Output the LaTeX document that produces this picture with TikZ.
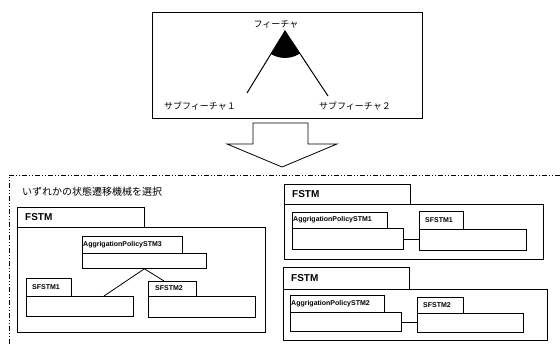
\documentclass[tikz,border=0pt]{standalone}
\usepackage{fontspec}
\setsansfont{Liberation Sans}
\newfontfamily\jpfont{Noto Sans CJK JP}
\usetikzlibrary{calc}
\tikzset{
  box/.style 2 args={draw, line width=0.8pt, rectangle, anchor=north west,
    inner sep=0pt, minimum width=#1pt, minimum height=#2pt},
  lbl/.style={font=\sffamily\bfseries\fontsize{7}{8}\selectfont, anchor=west, inner sep=0pt},
  biglbl/.style={font=\sffamily\bfseries\fontsize{10}{11}\selectfont, anchor=west, inner sep=0pt},
  jptxt/.style={font=\jpfont\fontsize{9}{10}\selectfont, inner sep=0pt},
  conn/.style={line width=0.8pt},
  frame/.style={line width=0.8pt, dash pattern=on 5pt off 2pt on 1pt off 2pt on 1pt off 2pt},
}
\begin{document}
\begin{tikzpicture}[x=1pt, y=-1pt]
\useasboundingbox (0,0) rectangle (560,345);

% feature tree: parent feature with two sub-features
\node[box={270}{106}, line width=1.4pt] (top) at (152,12) {};
\coordinate (apex) at (285,31);
\coordinate (lend) at (247,93);
\coordinate (rend) at (328,96);
\begin{scope}
  \clip (apex) -- (lend) -- (rend) -- cycle;
  \fill (apex) circle (27);
\end{scope}
\draw[line width=1pt] (lend) -- (apex) -- (rend);
\node[jptxt] (feat) at (276,24) {フィーチャ};
\node[jptxt] (sub1) at (200,106) {サブフィーチャ１};
\node[jptxt] (sub2) at (355,106) {サブフィーチャ２};

% hollow arrow pointing down
\draw[line width=0.8pt, fill=white]
  (253,123) -- (308,123) -- (308,144) -- (337,144) -- (282,167)
  -- (227,144) -- (253,144) -- cycle;

% selection frame
\coordinate (fr-r) at (560,175);
\coordinate (fr-c) at (9,175);
\coordinate (fr-b) at (9,345);
\draw[frame] (fr-r) -- (fr-c) -- (fr-b);
\node[font=\jpfont\fontsize{10}{11}\selectfont, anchor=west, inner sep=0pt] (sel) at (22,192)
  {いずれかの状態遷移機械を選択};

% left FSTM with AggrigationPolicySTM3 and two sub state machines
\node[box={127}{20}] (lt) at (17,207) {};
\node[biglbl] (ltl) at (25,217) {FSTM};
\node[box={248}{105}] (lb) at (17,227) {};
\node[box={100}{17}] (a3t) at (82,236) {};
\node[lbl] (a3l) at (83,244.5) {AggrigationPolicySTM3};
\node[box={124}{15}] (a3b) at (82,253) {};
\node[box={45}{18}] (s1t) at (26,278) {};
\node[lbl] (s1l) at (32,287) {SFSTM1};
\node[box={107}{20}] (s1b) at (26,296) {};
\node[box={48}{15}] (s2t) at (148,281) {};
\node[lbl] (s2l) at (155,288.5) {SFSTM2};
\node[box={107}{21}] (s2b) at (148,296) {};
\draw[conn] ($(s1b.north west)+(78,0)$) -- (a3b.south) -- ($(s2t.north west)+(16,0)$);

% right upper FSTM
\node[box={126}{20}] (rt1) at (284,184) {};
\node[biglbl] (rt1l) at (292,194) {FSTM};
\node[box={259}{55}] (rb1) at (284,204) {};
\node[box={95}{16}] (a1t) at (292,212) {};
\node[lbl] (a1l) at (293,220) {AggrigationPolicySTM1};
\node[box={111}{21}] (a1b) at (292,228) {};
\node[box={44}{18}] (r1t) at (419,211) {};
\node[lbl] (r1l) at (425,220) {SFSTM1};
\node[box={107}{21}] (r1b) at (419,229) {};
\draw[conn] (a1b.east) -- (a1b.east -| r1b.west);

% right lower FSTM
\node[box={126}{22}] (rt2) at (283,267) {};
\node[biglbl] (rt2l) at (291,278) {FSTM};
\node[box={264}{51}] (rb2) at (283,289) {};
\node[box={94}{17}] (a2t) at (290,295) {};
\node[lbl] (a2l) at (291,303.5) {AggrigationPolicySTM2};
\node[box={111}{19}] (a2b) at (290,312) {};
\node[box={46}{16}] (r2t) at (417,297) {};
\node[lbl] (r2l) at (423,305) {SFSTM2};
\node[box={106}{19}] (r2b) at (417,313) {};
\draw[conn] (a2b.east) -- (a2b.east -| r2b.west);
\end{tikzpicture}
\end{document}
